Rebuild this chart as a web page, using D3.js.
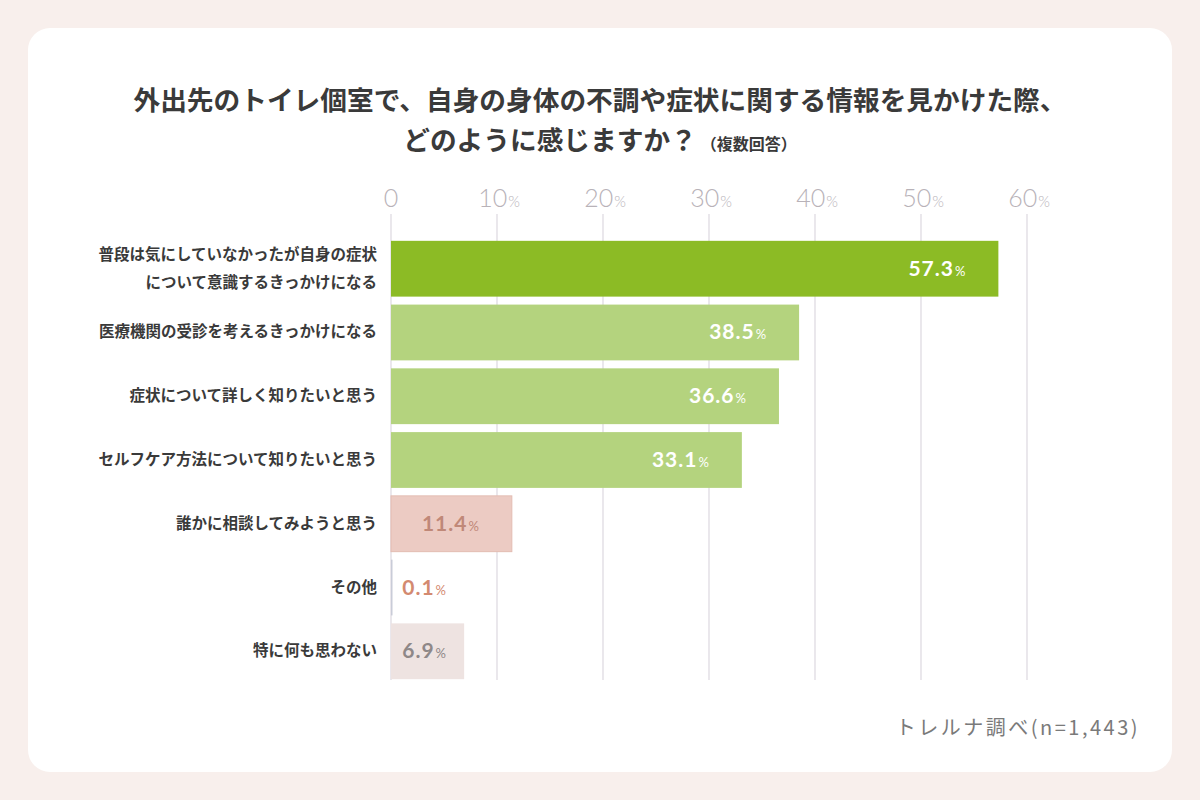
<!DOCTYPE html>
<html><head><meta charset="utf-8">
<script src="https://cdn.jsdelivr.net/npm/d3@7"></script>
<style>
html,body{margin:0;padding:0;background:#f8efec;}
svg{display:block;}
</style></head>
<body>
<svg id="chart" width="1200" height="800"></svg>
<script>
const categories = [
  ["普段は気にしていなかったが自身の症状","について意識するきっかけになる"],
  ["医療機関の受診を考えるきっかけになる"],
  ["症状について詳しく知りたいと思う"],
  ["セルフケア方法について知りたいと思う"],
  ["誰かに相談してみようと思う"],
  ["その他"],
  ["特に何も思わない"]
];
const values = [57.3, 38.5, 36.6, 33.1, 11.4, 0.1, 6.9];
const barColors = ["#8cbb25", "#b4d37e", "#b4d37e", "#b4d37e", "#eccbc3", "#c9ccd8", "#eee3e1"];
const labelColors = ["#ffffff", "#ffffff", "#ffffff", "#ffffff", "#c08878", "#d38a70", "#8e8888"];
const ticks = [0, 10, 20, 30, 40, 50, 60];
const titleLines = ["外出先のトイレ個室で、自身の身体の不調や症状に関する情報を見かけた際、", "どのように感じますか？"];
const note = "（複数回答）";
const source = "トレルナ調べ(n=1,443)";

const svg = d3.select("#chart");
const jp = "'Noto Sans CJK JP','Noto Sans',sans-serif";
const num = "'Lato','Noto Sans',sans-serif";

// card
svg.append("rect").attr("x",28).attr("y",28).attr("width",1144).attr("height",744)
  .attr("rx",22).attr("fill","#ffffff");

// title
svg.append("text").attr("x",600).attr("y",110).attr("text-anchor","middle")
  .attr("font-family",jp).attr("font-weight",700).attr("font-size",26.7).attr("fill","#3a3a3a")
  .text(titleLines[0]);
const t2 = svg.append("text").attr("x",600).attr("y",150).attr("text-anchor","middle")
  .attr("font-family",jp).attr("font-weight",700).attr("fill","#3a3a3a");
t2.append("tspan").attr("font-size",26.7).text(titleLines[1]);
t2.append("tspan").attr("font-size",16).attr("dx",4).text(note);

const x = d3.scaleLinear().domain([0,60]).range([391,1027]);
const y = d3.scaleBand().domain(d3.range(values.length)).range([237,683]).paddingInner(0.125).paddingOuter(0.06);

// gridlines
svg.append("g").selectAll("line").data(ticks).join("line")
  .attr("x1",d=>x(d)).attr("x2",d=>x(d)).attr("y1",214).attr("y2",680)
  .attr("stroke","#dcd8e0").attr("stroke-width",1.2);

// tick labels
const tl = svg.append("g").selectAll("text").data(ticks).join("text")
  .attr("x",d=>x(d)).attr("y",207).attr("text-anchor","middle")
  .attr("font-family",num).attr("font-weight",300).attr("fill","#b8b2b8");
tl.append("tspan").attr("font-size",25).text(d=>d);
tl.filter(d=>d>0).append("tspan").attr("font-size",15).attr("dx",1).text("%");
tl.filter(d=>d>0).attr("dx",2);

// bars
svg.append("g").selectAll("rect").data(values).join("rect")
  .attr("x",x(0)).attr("y",(d,i)=>y(i)).attr("width",d=>Math.max(1.5,x(d)-x(0))).attr("height",y.bandwidth())
  .attr("fill",(d,i)=>barColors[i])
  .attr("stroke",(d,i)=>i===4?"#e3bcb2":"none").attr("stroke-width",1);

// value labels
const vl = svg.append("g").selectAll("text").data(values).join("text")
  .attr("x",d=>Math.max(x(d)-33, x(0)+55)).attr("y",(d,i)=>y(i)+y.bandwidth()/2+7)
  .attr("text-anchor","end").attr("font-family",num).attr("font-weight",700)
  .attr("fill",(d,i)=>labelColors[i]);
vl.append("tspan").attr("font-size",21).attr("letter-spacing",1).text(d=>d.toFixed(1));
vl.append("tspan").attr("font-size",13).attr("font-weight",400).attr("dx",1).text("%");

// category labels
const cl = svg.append("g").selectAll("text").data(categories).join("text")
  .attr("text-anchor","end").attr("font-family",jp).attr("font-weight",700)
  .attr("font-size",15.5).attr("fill","#3a3a3a");
cl.each(function(lines,i){
  const cy = y(i)+y.bandwidth()/2;
  const n = lines.length, lh = 28;
  d3.select(this).selectAll("tspan").data(lines).join("tspan")
    .attr("x",377).attr("y",(l,j)=>cy + (j-(n-1)/2)*lh + 5).text(l=>l);
});

// source
svg.append("text").attr("x",1140).attr("y",735).attr("text-anchor","end")
  .attr("font-family",jp).attr("font-size",20).attr("letter-spacing",2.5).attr("fill","#7a7a7a").text(source);
</script>
</body></html>
